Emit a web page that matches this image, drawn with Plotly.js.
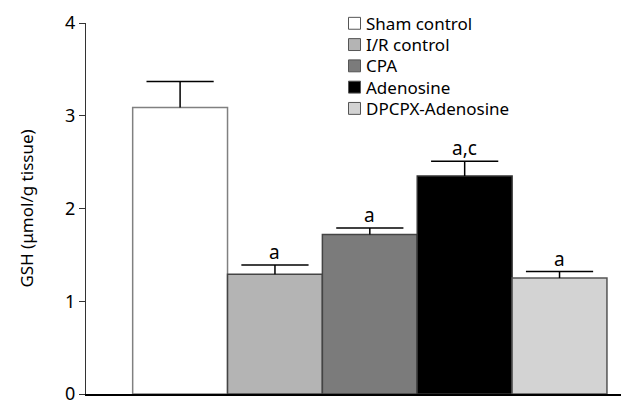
<!DOCTYPE html>
<html>
<head>
<meta charset="utf-8">
<script src="https://cdn.plot.ly/plotly-3.0.1.min.js"></script>
<style>html,body{margin:0;padding:0;background:#fff;}#chart{width:621px;height:405px;}</style>
</head>
<body>
<div id="chart"></div>
<script>
var categories = ["Sham control", "I/R control", "CPA", "Adenosine", "DPCPX-Adenosine"];
var gshMean = [3.09, 1.29, 1.72, 2.35, 1.25];
var gshSem = [0.28, 0.10, 0.07, 0.16, 0.07];
var sigLabels = ["", "a", "a", "a,c", "a"];
var barColors = ["#ffffff", "#b4b4b4", "#7b7b7b", "#000000", "#d3d3d3"];
var edgeColors = ["#808080", "#444444", "#444444", "#333333", "#555555"];
var yTicks = [0, 1, 2, 3, 4];

var FONT = "Noto Sans, DejaVu Sans, sans-serif";

// bars
var barTrace = {
  type: "bar",
  x: categories,
  y: gshMean,
  width: 1,
  marker: { color: barColors, line: { color: edgeColors, width: 1.5 } },
  hoverinfo: "skip",
  showlegend: false
};

// upper error bars: stem from bar top, cap at mean + SEM
var errTop = gshMean.map(function (m, i) { return m + gshSem[i]; });
var errTrace = {
  type: "scatter",
  mode: "markers",
  x: categories,
  y: errTop,
  marker: { symbol: "line-ew", size: 48, line: { width: 1.5, color: "#000" }, color: "#000" },
  error_y: { type: "data", symmetric: false, array: gshSem.map(function () { return 0; }), arrayminus: gshSem, width: 0, thickness: 1.5, color: "#000" },
  hoverinfo: "skip",
  showlegend: false
};

var annotations = categories.map(function (c, i) {
  return {
    x: c, y: errTop[i], xref: "x", yref: "y",
    text: sigLabels[i], showarrow: false, yanchor: "bottom", yshift: -2,
    font: { family: FONT, size: 19, color: "#000" }
  };
}).filter(function (a) { return a.text !== ""; });

// manual legend (layout only): plot area spans x 86..621 px, y 23..397 px
function px2x(px) { return (px - 86) / 535; }
function py2y(py) { return (397 - py) / 374; }
var shapes = [];
categories.forEach(function (c, i) {
  var cy = 23.3 + 21.45 * i;
  shapes.push({
    type: "rect", xref: "paper", yref: "paper",
    x0: px2x(348.5), x1: px2x(360.5), y0: py2y(cy + 6), y1: py2y(cy - 6),
    fillcolor: barColors[i], line: { color: "#555", width: 1 }
  });
  annotations.push({
    xref: "paper", yref: "paper", x: px2x(364), y: py2y(cy),
    xanchor: "left", yanchor: "middle", showarrow: false, text: c,
    font: { family: FONT, size: 17, color: "#000" }
  });
});

var layout = {
  width: 621, height: 405,
  margin: { l: 86, r: 0, t: 23, b: 8 },
  paper_bgcolor: "#fff", plot_bgcolor: "#fff",
  showlegend: false,
  xaxis: {
    type: "category", categoryorder: "array", categoryarray: categories,
    range: [-0.992, 4.648],
    showticklabels: false, ticks: "", showgrid: false, zeroline: false,
    showline: true, linecolor: "#000", linewidth: 1.5
  },
  yaxis: {
    range: [0, 4], tickvals: yTicks, ticktext: yTicks.map(String),
    ticks: "outside", ticklen: 6, tickwidth: 1, tickcolor: "#333",
    showline: true, linecolor: "#333", linewidth: 1,
    showgrid: false, zeroline: false, ticklabeloverflow: "allow",
    tickfont: { family: FONT, size: 18, color: "#000" },
    automargin: true,
    title: { text: "GSH (μmol/g tissue)", font: { family: FONT, size: 17, color: "#000" }, standoff: 27 }
  },
  shapes: shapes,
  annotations: annotations
};

Plotly.newPlot("chart", [barTrace, errTrace], layout, { displayModeBar: false, staticPlot: true });
</script>
</body>
</html>
